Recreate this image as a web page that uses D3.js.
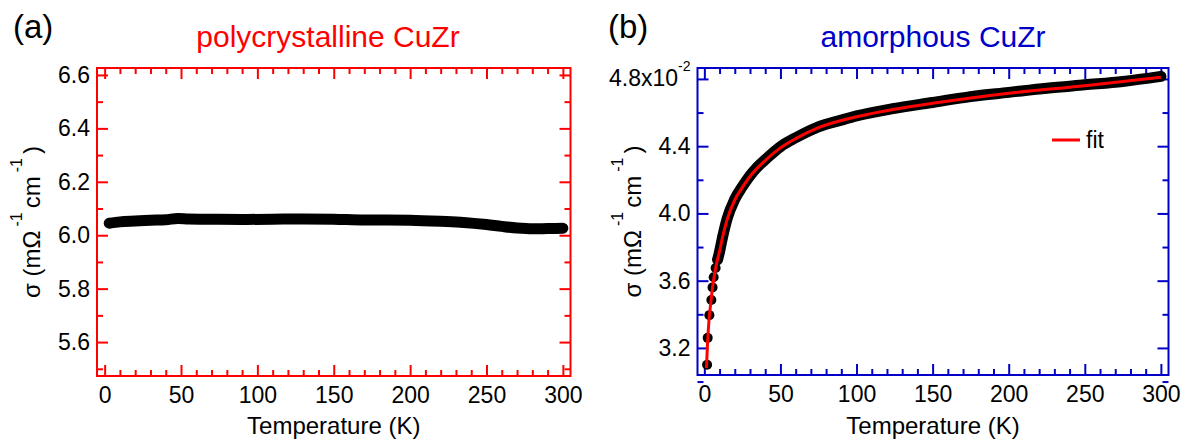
<!DOCTYPE html>
<html>
<head>
<meta charset="utf-8">
<script src="https://cdn.jsdelivr.net/npm/d3@7"></script>
<style>
  body { margin: 0; background: #fff; }
  svg { display: block; font-family: "Liberation Sans", Arial, sans-serif; }
</style>
</head>
<body>
<svg id="chart" width="1186" height="439"></svg>
<script>
// tick labels
const xTickVals = [0, 50, 100, 150, 200, 250, 300];
const yTickValsA = [5.6, 5.8, 6.0, 6.2, 6.4, 6.6];
const yTickValsB = [3.2, 3.6, 4.0, 4.4, 4.8];

// (a) polycrystalline CuZr, sigma in mOhm^-1 cm^-1
const polyTemp  = [3, 10, 20, 30, 40, 48, 55, 70, 90, 110, 130, 150, 170, 185, 200, 220, 235, 250, 260, 270, 280, 290, 300];
const polySigma = [6.045, 6.050, 6.053, 6.056, 6.058, 6.063, 6.061, 6.060, 6.059, 6.060, 6.061, 6.060, 6.057, 6.057, 6.056, 6.052, 6.048, 6.040, 6.033, 6.027, 6.024, 6.025, 6.026];

// (b) amorphous CuZr, sigma in units of 1e-2 mOhm^-1 cm^-1
const amorTemp  = [1.8, 2.2, 3.3, 4.6, 5.4, 6.1, 7.4, 8.7, 9.8, 12, 15, 20, 25, 30, 35, 40, 50, 60, 75, 90, 100, 125, 150, 175, 200, 225, 250, 275, 300];
const amorSigma = [3.10, 3.26, 3.395, 3.485, 3.56, 3.62, 3.675, 3.725, 3.765, 3.86, 3.97, 4.085, 4.16, 4.225, 4.278, 4.32, 4.397, 4.45, 4.515, 4.555, 4.58, 4.625, 4.66, 4.695, 4.72, 4.745, 4.765, 4.785, 4.815];

const fitTemp  = [1.4, 2, 3, 4, 5, 6, 8, 10, 12, 15, 20, 25, 30, 40, 50, 60, 75, 100, 125, 150, 200, 250, 300];
const fitSigma = [3.08, 3.21, 3.36, 3.45, 3.53, 3.60, 3.70, 3.775, 3.86, 3.965, 4.08, 4.155, 4.22, 4.315, 4.39, 4.445, 4.51, 4.575, 4.62, 4.655, 4.715, 4.76, 4.81];

const svg = d3.select("#chart");
const RED = "#ff0000";
const BLUE = "#0000c8";

function addAxis(g, axisFn, scale, transform, values, size, color, fmt, pad) {
  const ax = axisFn(scale).tickValues(values).tickSize(-size).tickPadding(pad || 0);
  ax.tickFormat(fmt || "");
  const a = g.append("g")
    .attr("transform", transform)
    .attr("font-family", null)
    .attr("font-size", null)
    .call(ax);
  a.select(".domain").remove();
  a.selectAll("line").attr("stroke", color).attr("stroke-width", 2);
  a.selectAll("text").attr("fill", "#000").style("font-size", "23px");
  return a;
}

function drawPanel(cfg) {
  const g = svg.append("g");
  const x = d3.scaleLinear().domain(cfg.xDomain).range([cfg.left, cfg.right]);
  const y = d3.scaleLinear().domain(cfg.yDomain).range([cfg.bottom, cfg.top]);

  const xMinor = d3.range(0, 301, 10).filter(v => v % 50 !== 0);
  const yMinor = d3.range(cfg.minorStart, cfg.yDomain[1], cfg.minorStep)
    .filter(v => !cfg.yTicks.some(t => Math.abs(t - v) < 1e-6));

  // bottom + top
  addAxis(g, d3.axisBottom, x, `translate(0,${cfg.bottom})`, xTickVals, 11, cfg.color, d => d, 11);
  addAxis(g, d3.axisBottom, x, `translate(0,${cfg.bottom})`, xMinor, 6, cfg.color);
  addAxis(g, d3.axisTop, x, `translate(0,${cfg.top})`, xTickVals, 11, cfg.color);
  addAxis(g, d3.axisTop, x, `translate(0,${cfg.top})`, xMinor, 6, cfg.color);
  // left + right
  const left = addAxis(g, d3.axisLeft, y, `translate(${cfg.left},0)`, cfg.yTicks, 11, cfg.color, cfg.yFormat, 7);
  addAxis(g, d3.axisLeft, y, `translate(${cfg.left},0)`, yMinor, 6, cfg.color);
  addAxis(g, d3.axisRight, y, `translate(${cfg.right},0)`, cfg.yTicks, 11, cfg.color);
  addAxis(g, d3.axisRight, y, `translate(${cfg.right},0)`, yMinor, 6, cfg.color);

  g.append("rect")
    .attr("x", cfg.left).attr("y", cfg.top)
    .attr("width", cfg.right - cfg.left).attr("height", cfg.bottom - cfg.top)
    .attr("fill", "none").attr("stroke", cfg.color).attr("stroke-width", 2);

  // panel letter and title
  g.append("text").attr("x", cfg.letterX).attr("y", 38)
    .style("font-size", "33px").text(cfg.letter);
  g.append("text").attr("x", cfg.titleX).attr("y", 47)
    .attr("text-anchor", "middle").attr("fill", cfg.color)
    .style("font-size", "30px").text(cfg.title);

  // x label
  g.append("text").attr("x", (cfg.left + cfg.right) / 2).attr("y", 434)
    .attr("text-anchor", "middle").style("font-size", "24px").text("Temperature (K)");

  // y label with superscripts
  const yl = g.append("text")
    .attr("transform", `translate(${cfg.left - 57},${(cfg.top + cfg.bottom) / 2}) rotate(-90)`)
    .attr("text-anchor", "middle").style("font-size", "24px");
  yl.append("tspan").text("σ (mΩ");
  yl.append("tspan").attr("dy", -18).attr("dx", 4).style("font-size", "16px").text("-1");
  yl.append("tspan").attr("dy", 18).attr("dx", 4).text("cm");
  yl.append("tspan").attr("dy", -18).attr("dx", 4).style("font-size", "16px").text("-1");
  yl.append("tspan").attr("dy", 18).attr("dx", 4).text(")");

  return { g, x, y, left };
}

// ---- panel (a)
const pa = drawPanel({
  left: 97, right: 570.5, top: 68, bottom: 376,
  xDomain: [-5, 305], yDomain: [5.473, 6.626],
  yTicks: yTickValsA, minorStart: 5.5, minorStep: 0.1,
  yFormat: d3.format(".1f"), color: RED,
  letter: "(a)", letterX: 13, title: "polycrystalline CuZr", titleX: 328
});

const polyData = polyTemp.map((t, i) => ({ t, s: polySigma[i] }));
pa.g.append("path")
  .datum(polyData)
  .attr("fill", "none").attr("stroke", "#000")
  .attr("stroke-width", 11).attr("stroke-linecap", "round").attr("stroke-linejoin", "round")
  .attr("d", d3.line().x(d => pa.x(d.t)).y(d => pa.y(d.s)).curve(d3.curveMonotoneX));

// ---- panel (b)
const pb = drawPanel({
  left: 697.5, right: 1168.5, top: 68, bottom: 375,
  xDomain: [-4.5, 305], yDomain: [3.039, 4.865],
  yTicks: yTickValsB, minorStart: 3.0, minorStep: 0.2,
  yFormat: d => (d === 4.8 ? "" : d3.format(".1f")(d)), color: BLUE,
  letter: "(b)", letterX: 608, title: "amorphous CuZr", titleX: 933
});

// 4.8x10^-2 label
pb.left.selectAll(".tick").filter(d => d === 4.8).select("text")
  .each(function () {
    const t = d3.select(this);
    t.append("tspan").attr("dy", 7).text("4.8x10");
    t.append("tspan").attr("dy", -15).style("font-size", "14px").text("-2");
  });

const amorData = amorTemp.map((t, i) => ({ t, s: amorSigma[i] }));
pb.g.append("path")
  .datum(amorData.filter(d => d.t >= 8.7))
  .attr("fill", "none").attr("stroke", "#000")
  .attr("stroke-width", 11).attr("stroke-linecap", "round").attr("stroke-linejoin", "round")
  .attr("d", d3.line().x(d => pb.x(d.t)).y(d => pb.y(d.s)).curve(d3.curveMonotoneX));
pb.g.selectAll("circle.pt")
  .data(amorData)
  .join("circle")
  .attr("class", "pt")
  .attr("cx", d => pb.x(d.t)).attr("cy", d => pb.y(d.s))
  .attr("r", 5).attr("fill", "#000");

const fitData = fitTemp.map((t, i) => ({ t, s: fitSigma[i] }));
pb.g.append("path")
  .datum(fitData)
  .attr("fill", "none").attr("stroke", RED).attr("stroke-width", 3)
  .attr("d", d3.line().x(d => pb.x(d.t)).y(d => pb.y(d.s)).curve(d3.curveMonotoneX));

// legend
const lg = pb.g.append("g").attr("transform", "translate(1052,140)");
lg.append("line").attr("x1", 0).attr("x2", 28).attr("stroke", RED).attr("stroke-width", 3);
lg.append("text").attr("x", 34).attr("dy", "0.35em").style("font-size", "23px").text("fit");
</script>
</body>
</html>
